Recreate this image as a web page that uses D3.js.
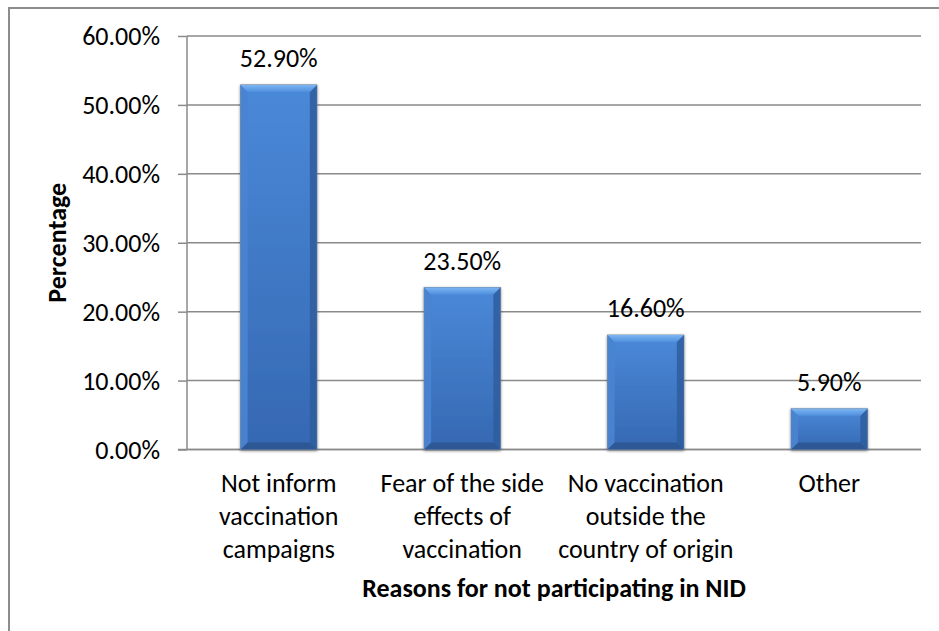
<!DOCTYPE html>
<html>
<head>
<meta charset="utf-8">
<script src="https://cdn.jsdelivr.net/npm/d3@7"></script>
<style>
  html, body { margin: 0; padding: 0; background: #fff; }
  svg { display: block; }
  text { font-family: Carlito, Calibri, Lato, "Open Sans", sans-serif; fill: #000; }
</style>
</head>
<body>
<svg id="chart" width="939" height="631"></svg>
<script>
// Chart data
const categories = [
  ["Not inform", "vaccination", "campaigns"],
  ["Fear of the side", "effects of", "vaccination"],
  ["No vaccination", "outside the", "country of origin"],
  ["Other"]
];
const values = [52.9, 23.5, 16.6, 5.9];
const yTicks = [0, 10, 20, 30, 40, 50, 60];
const yTitle = "Percentage";
const xTitle = "Reasons for not participating in NID";

const FS = 26;
const svg = d3.select("#chart");
const W = 939, H = 631;
const margin = { left: 187, right: 18, top: 36, bottom: 181.5 };
const plotW = W - margin.left - margin.right;
const plotH = H - margin.top - margin.bottom;

// Outer chart frame (left and top edges visible)
svg.append("path")
  .attr("d", `M9,${H} V8 H${W}`)
  .attr("fill", "none")
  .attr("stroke", "#8c8c8c")
  .attr("stroke-width", 2);

const g = svg.append("g").attr("transform", `translate(${margin.left},${margin.top})`);

const x = d3.scaleBand()
  .domain(d3.range(categories.length))
  .range([0, plotW])
  .paddingInner(0.585)
  .paddingOuter(0.2925);

const y = d3.scaleLinear().domain([0, 60]).range([plotH, 0]);

// Horizontal gridlines
g.append("g")
  .selectAll("line")
  .data(yTicks)
  .join("line")
  .attr("x1", 0).attr("x2", plotW)
  .attr("y1", d => y(d)).attr("y2", d => y(d))
  .attr("stroke", "#8a8a8a")
  .attr("stroke-width", 1.5);

// Y axis with ticks on the left
const yAxis = d3.axisLeft(y)
  .tickValues(yTicks)
  .tickSize(9)
  .tickPadding(18)
  .tickFormat(d => d.toFixed(2) + "%");
const yg = g.append("g").call(yAxis);
yg.select(".domain").attr("stroke", "#8a8a8a").attr("stroke-width", 1.5).attr("d", `M0,0V${plotH}`);
yg.selectAll(".tick line").attr("stroke", "#8a8a8a").attr("stroke-width", 1.5);
yg.selectAll(".tick text")
  .attr("font-size", FS)
  .attr("font-family", "Carlito, Calibri, Lato, sans-serif")
  .attr("fill", "#000")
  .attr("dy", "0.34em");

// Baseline extended left to the tick length
g.append("line")
  .attr("x1", -9).attr("x2", plotW)
  .attr("y1", y(0)).attr("y2", y(0))
  .attr("stroke", "#8a8a8a").attr("stroke-width", 1.5);

// Gradients for bevelled bars
const defs = svg.append("defs");
const body = defs.append("linearGradient").attr("id", "barBody")
  .attr("x1", 0).attr("y1", 0).attr("x2", 0).attr("y2", 1);
body.append("stop").attr("offset", "0%").attr("stop-color", "#4a89d8");
body.append("stop").attr("offset", "100%").attr("stop-color", "#3568b2");

const topG = defs.append("linearGradient").attr("id", "barTop")
  .attr("x1", 0).attr("y1", 0).attr("x2", 0).attr("y2", 1);
topG.append("stop").attr("offset", "0%").attr("stop-color", "#7cb5f2");
topG.append("stop").attr("offset", "100%").attr("stop-color", "#4f8fde");

const shadow = defs.append("filter").attr("id", "barShadow")
  .attr("x", "-20%").attr("y", "-10%").attr("width", "140%").attr("height", "130%");
shadow.append("feGaussianBlur").attr("in", "SourceAlpha").attr("stdDeviation", 1.5).attr("result", "b");
shadow.append("feOffset").attr("in", "b").attr("dx", 0).attr("dy", 1).attr("result", "o");
shadow.append("feComponentTransfer").attr("in", "o").attr("result", "s")
  .append("feFuncA").attr("type", "linear").attr("slope", 0.45);
const merge = shadow.append("feMerge");
merge.append("feMergeNode").attr("in", "s");
merge.append("feMergeNode").attr("in", "SourceGraphic");

const bev = 7;
const bars = g.append("g")
  .selectAll("g.bar")
  .data(values)
  .join("g")
  .attr("class", "bar")
  .attr("filter", "url(#barShadow)");

bars.each(function (v, i) {
  const b = d3.select(this);
  const x0 = x(i), x1 = x(i) + x.bandwidth();
  const y0 = y(v), y1 = y(0);
  const e = Math.min(bev, (y1 - y0) / 3);
  // body
  b.append("rect")
    .attr("x", x0).attr("y", y0)
    .attr("width", x1 - x0).attr("height", y1 - y0)
    .attr("fill", "url(#barBody)")
    .attr("stroke", "#6f86a3").attr("stroke-width", 1);
  // left bevel
  b.append("path")
    .attr("d", `M${x0},${y0} L${x0 + e},${y0 + e} L${x0 + e},${y1 - e} L${x0},${y1} Z`)
    .attr("fill", "#4a84d0").attr("opacity", 0.9);
  // right bevel
  b.append("path")
    .attr("d", `M${x1},${y0} L${x1 - e},${y0 + e} L${x1 - e},${y1 - e} L${x1},${y1} Z`)
    .attr("fill", "#2e5d9e").attr("opacity", 0.85);
  // bottom bevel
  b.append("path")
    .attr("d", `M${x0},${y1} L${x0 + e},${y1 - e} L${x1 - e},${y1 - e} L${x1},${y1} Z`)
    .attr("fill", "#2b568f").attr("opacity", 0.85);
  // top bevel
  b.append("path")
    .attr("d", `M${x0},${y0} L${x1},${y0} L${x1 - e},${y0 + e} L${x0 + e},${y0 + e} Z`)
    .attr("fill", "url(#barTop)");
});

// Value labels
g.append("g")
  .selectAll("text")
  .data(values)
  .join("text")
  .attr("x", (d, i) => x(i) + x.bandwidth() / 2)
  .attr("y", d => y(d) - 18)
  .attr("text-anchor", "middle")
  .attr("font-size", FS)
  .text(d => d.toFixed(2) + "%");

// Category labels (multi-line)
const catG = g.append("g")
  .selectAll("text")
  .data(categories)
  .join("text")
  .attr("text-anchor", "middle")
  .attr("font-size", FS)
  .attr("x", (d, i) => x(i) + x.bandwidth() / 2)
  .attr("y", plotH + 42);
catG.selectAll("tspan")
  .data(d => d)
  .join("tspan")
  .attr("x", function () { return d3.select(this.parentNode).attr("x"); })
  .attr("dy", (d, j) => j === 0 ? 0 : 33)
  .text(d => d);

// Axis titles
svg.append("text")
  .attr("x", margin.left + plotW / 2)
  .attr("y", 597)
  .attr("text-anchor", "middle")
  .attr("font-size", FS)
  .attr("font-weight", "bold")
  .text(xTitle);

svg.append("text")
  .attr("transform", `translate(66,${margin.top + plotH / 2}) rotate(-90)`)
  .attr("text-anchor", "middle")
  .attr("font-size", FS)
  .attr("font-weight", "bold")
  .text(yTitle);
</script>
</body>
</html>
